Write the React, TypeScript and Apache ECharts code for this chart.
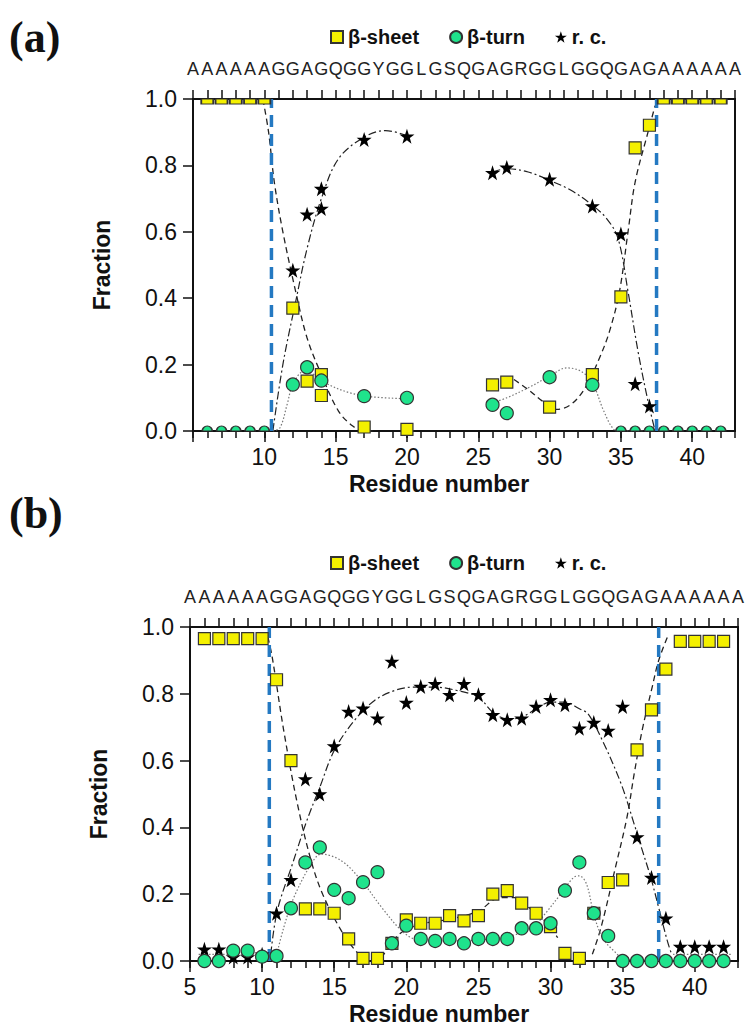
import React, { useEffect, useRef } from "react";
import * as echarts from "echarts";

// ---------- axis / text data ----------
const sequence = "AAAAAAGGAGQGGYGGLGSQGAGRGGLGGQGAGAAAAAA"; // residues 5 … 43
const seqStart = 5;
const xMin = 5;
const xMax = 43;
const boundaries = [10.5, 37.5];
const xMajorTicks = [5, 10, 15, 20, 25, 30, 35, 40];
const xLabelsA = [10, 15, 20, 25, 30, 35, 40];
const xLabelsB = [5, 10, 15, 20, 25, 30, 35, 40];
const legendNames = ["β-sheet", "β-turn", "r. c."];
const panelLabels = ["(a)", "(b)"];

// ---------- panel (a) ----------
const aSheet = [
  [6, 1], [7, 1], [8, 1], [9, 1], [10, 1], [12, 0.37], [13, 0.15], [14, 0.17], [14, 0.107],
  [17, 0.012], [20, 0.005], [26, 0.139], [27, 0.147], [30, 0.072], [33, 0.17], [35, 0.404],
  [36, 0.853], [37, 0.921], [38, 1], [39, 1], [40, 1], [41, 1], [42, 1],
];
const aTurn = [
  [6, 0], [7, 0], [8, 0], [9, 0], [10, 0], [12, 0.14], [13, 0.192], [14, 0.152], [17, 0.105],
  [20, 0.1], [26, 0.079], [27, 0.054], [30, 0.162], [33, 0.139], [35, 0], [36, 0], [37, 0],
  [38, 0], [39, 0], [40, 0], [41, 0], [42, 0],
];
const aCoil = [
  [12, 0.484], [13, 0.653], [14, 0.73], [14, 0.67], [17, 0.878], [20, 0.888], [26, 0.778],
  [27, 0.794], [30, 0.758], [33, 0.678], [35, 0.593], [36, 0.142], [37, 0.075],
];
const aSheetFitL = [
  [9.9, 1.0], [10.3, 0.9], [10.7, 0.75], [11.3, 0.6], [12.2, 0.42], [13, 0.28], [14, 0.17],
  [15.2, 0.06], [16.2, 0.015], [17, 0], [17.6, 0],
];
const aSheetFitR = [
  [27.5, 0.155], [28.5, 0.125], [29.5, 0.09], [30.5, 0.065], [31.5, 0.08], [32.5, 0.13],
  [33.5, 0.22], [34.2, 0.3], [34.9, 0.42], [35.5, 0.6], [36, 0.75], [36.9, 0.9], [37.4, 0.98],
];
const aCoilFitL = [
  [10.6, 0], [11.3, 0.2], [12.2, 0.39], [13, 0.55], [14, 0.7], [15.2, 0.82], [17, 0.885],
  [18.5, 0.905], [20, 0.89],
];
const aCoilFitR = [
  [26, 0.78], [27, 0.79], [28.5, 0.78], [30, 0.755], [31.5, 0.725], [33, 0.68], [34, 0.64],
  [34.8, 0.58], [35.5, 0.42], [36.2, 0.24], [36.9, 0.09], [37.4, 0],
];
const aTurnFitL = [
  [10.6, 0], [11.1, 0.01], [11.6, 0.08], [12, 0.14], [12.8, 0.18], [13.5, 0.17], [14.5, 0.14],
  [16, 0.115], [17.5, 0.103], [20, 0.097],
];
const aTurnFitR = [
  [26, 0.085], [27, 0.1], [28.5, 0.13], [30, 0.165], [31.2, 0.19], [32.2, 0.18], [33, 0.145],
  [33.8, 0.06], [34.5, 0.005], [35, 0], [37, 0],
];

// ---------- panel (b) ----------
const bSheet = [
  [6, 0.965], [7, 0.965], [8, 0.965], [9, 0.965], [10, 0.965], [11, 0.842], [12, 0.6],
  [13, 0.156], [14, 0.156], [15, 0.143], [16, 0.066], [17, 0.008], [18, 0.008], [19, 0.053],
  [20, 0.123], [21, 0.113], [22, 0.113], [23, 0.136], [24, 0.12], [25, 0.136], [26, 0.2],
  [27, 0.211], [28, 0.173], [29, 0.143], [30, 0.103], [31, 0.023], [32, 0.008], [33, 0.143],
  [34, 0.235], [35, 0.243], [36, 0.632], [37, 0.752], [38, 0.874], [39, 0.957], [40, 0.957],
  [41, 0.957], [42, 0.957],
];
const bTurn = [
  [6, 0], [7, 0], [8, 0.031], [9, 0.031], [10, 0.013], [11, 0.015], [12, 0.158], [13, 0.295],
  [14, 0.34], [15, 0.213], [16, 0.188], [17, 0.236], [18, 0.266], [19, 0.053], [20, 0.106],
  [21, 0.066], [22, 0.06], [23, 0.066], [24, 0.053], [25, 0.066], [26, 0.066], [27, 0.066],
  [28, 0.098], [29, 0.098], [30, 0.113], [31, 0.211], [32, 0.295], [33, 0.143], [34, 0.075],
  [35, 0], [36, 0], [37, 0], [38, 0], [39, 0], [40, 0], [41, 0], [42, 0],
];
const bCoil = [
  [6, 0.035], [7, 0.035], [8, 0.012], [9, 0.012], [10, 0.02], [11, 0.143], [12, 0.243],
  [13, 0.545], [14, 0.5], [15, 0.644], [16, 0.747], [17, 0.757], [18, 0.727], [19, 0.897],
  [20, 0.774], [21, 0.822], [22, 0.83], [23, 0.797], [24, 0.83], [25, 0.797], [26, 0.737],
  [27, 0.722], [28, 0.727], [29, 0.762], [30, 0.782], [31, 0.767], [32, 0.697], [33, 0.714],
  [34, 0.69], [35, 0.762], [36, 0.371], [37, 0.25], [38, 0.128], [39, 0.043], [40, 0.043],
  [41, 0.043], [42, 0.043],
];
const bSheetFitL = [
  [10.4, 0.97], [10.7, 0.91], [11.5, 0.69], [12.45, 0.47], [13.4, 0.3], [14.2, 0.2],
  [15.5, 0.09], [16.5, 0.03], [17.3, 0],
];
const bSheetFitM = [
  [18.3, 0.01], [19.5, 0.08], [21, 0.11], [23, 0.125], [25, 0.15], [26.5, 0.19], [27.5, 0.19],
  [28.5, 0.16], [29.5, 0.125], [30.5, 0.07],
];
const bSheetFitR = [
  [32.9, 0.02], [33.5, 0.1], [34.5, 0.28], [35.3, 0.43], [35.8, 0.56], [36.35, 0.69],
  [37.05, 0.82], [37.5, 0.9], [38.2, 0.98],
];
const bCoilFit = [
  [10.6, 0.02], [11.05, 0.15], [12.1, 0.29], [13.1, 0.42], [14, 0.52], [15, 0.63], [16.4, 0.72],
  [17.8, 0.78], [19.2, 0.81], [20.5, 0.82], [22, 0.82], [23.5, 0.81], [25, 0.79], [26, 0.745],
  [27, 0.725], [28, 0.73], [29, 0.755], [30, 0.775], [31, 0.775], [32, 0.755], [32.6, 0.74],
  [33.6, 0.66], [34.9, 0.53], [35.8, 0.41], [36.3, 0.34], [36.95, 0.25], [37.5, 0.16],
  [38.1, 0.06], [38.4, 0.02],
];
const bTurnFit = [
  [10.9, 0], [11.5, 0.1], [12.2, 0.19], [13.4, 0.29], [14.1, 0.32], [15.5, 0.3], [16.9, 0.24],
  [18.3, 0.16], [19.7, 0.09], [20.8, 0.063], [22.5, 0.06], [24.5, 0.062], [26.5, 0.07],
  [28, 0.085], [29, 0.11], [29.6, 0.14], [30.7, 0.2], [31.6, 0.25], [32, 0.255], [32.5, 0.23],
  [33, 0.14], [33.6, 0.07], [34.4, 0.03], [35.2, 0.005], [42.5, 0],
];
const bBaseL = [[5.6, 0.02], [10.3, 0.02]];
const bBaseR = [[38.5, 0.02], [42.6, 0.02]];

// ---------- styling ----------
const FONT = "'Liberation Sans', Arial, Helvetica, sans-serif";
const INK = "#111";
const YELLOW = "#f4f000";
const GREEN = "#1fe38c";
const BLUE = "#2479c2";
const STAR =
  "path://M50,0L61.8,35.1L98.8,35.1L68.8,56.7L79.4,91.9L50,70.5L20.6,91.9L31.2,56.7L1.2,35.1L38.2,35.1Z";
const HALF_DISC = "path://M0,10A10,10,0,0,1,20,10Z";

const DASH = [6, 4];
const DASHDOT = [8, 3, 2, 3];
const DOT = [1.5, 2];

const grids = [
  { left: 193, top: 99, width: 542, height: 332 },
  { left: 190, top: 627, width: 548, height: 334 },
];

function buildOption() {
  const xAxis: any[] = [];
  const yAxis: any[] = [];
  const series: any[] = [];

  const panels = [
    {
      xLabels: xLabelsA,
      sheet: aSheet,
      turn: aTurn,
      coil: aCoil,
      clipEnds: true,
      fits: [
        { d: aSheetFitL, t: DASH, c: "#222", w: 1.3 },
        { d: aSheetFitR, t: DASH, c: "#222", w: 1.3 },
        { d: aCoilFitL, t: DASHDOT, c: "#222", w: 1.2 },
        { d: aCoilFitR, t: DASHDOT, c: "#222", w: 1.2 },
        { d: aTurnFitL, t: DOT, c: "#777", w: 1.2 },
        { d: aTurnFitR, t: DOT, c: "#777", w: 1.2 },
      ],
    },
    {
      xLabels: xLabelsB,
      sheet: bSheet,
      turn: bTurn,
      coil: bCoil,
      clipEnds: false,
      fits: [
        { d: bSheetFitL, t: DASH, c: "#222", w: 1.3 },
        { d: bSheetFitM, t: DASH, c: "#222", w: 1.3 },
        { d: bSheetFitR, t: DASH, c: "#222", w: 1.3 },
        { d: bCoilFit, t: DASHDOT, c: "#222", w: 1.2 },
        { d: bTurnFit, t: DOT, c: "#777", w: 1.2 },
        { d: bBaseL, t: DOT, c: "#777", w: 1.2 },
        { d: bBaseR, t: DOT, c: "#777", w: 1.2 },
      ],
    },
  ];

  panels.forEach((p, gi) => {
    const xi = gi * 3;
    const yi = gi * 2;
    // bottom axis with a tick at every residue
    xAxis.push({
      gridIndex: gi, type: "value", min: xMin, max: xMax, interval: 1, position: "bottom",
      axisLine: { show: true, onZero: false, lineStyle: { color: INK, width: 2 } },
      axisTick: { show: true, length: 7, lineStyle: { color: INK, width: 1.5 } },
      axisLabel: { show: false }, splitLine: { show: false },
    });
    // bottom axis with long ticks and labels every 5 residues
    xAxis.push({
      gridIndex: gi, type: "value", min: xMin, max: xMax, position: "bottom",
      axisLine: { show: false, onZero: false },
      axisTick: { show: true, length: 11, customValues: xMajorTicks, lineStyle: { color: INK, width: 1.5 } },
      axisLabel: {
        show: true, customValues: p.xLabels, fontSize: 23, fontFamily: FONT, color: INK, margin: 14,
      },
      splitLine: { show: false },
      name: "Residue number", nameLocation: "middle", nameGap: 41,
      nameTextStyle: { fontSize: 23, fontWeight: "bold", fontFamily: FONT, color: INK, padding: [0, 50, 0, 0] },
    });
    // top axis carrying the sequence
    xAxis.push({
      gridIndex: gi, type: "value", min: xMin, max: xMax, interval: 1, position: "top",
      axisLine: { show: true, onZero: false, lineStyle: { color: INK, width: 2 } },
      axisTick: { show: true, length: 9, lineStyle: { color: INK, width: 1.5 } },
      axisLabel: {
        show: true, showMinLabel: true, showMaxLabel: true, fontSize: 18, fontFamily: FONT,
        color: "#222", margin: 21,
        formatter: (v: number) => sequence.charAt(Math.round(v) - seqStart),
      },
      splitLine: { show: false },
    });
    yAxis.push({
      gridIndex: gi, type: "value", min: 0, max: 1, interval: 0.2, position: "left",
      axisLine: { show: true, onZero: false, lineStyle: { color: INK, width: 2 } },
      axisTick: { show: true, length: 10, lineStyle: { color: INK, width: 1.5 } },
      axisLabel: {
        fontSize: 23, fontFamily: FONT, color: INK, margin: 16,
        formatter: (v: number) => v.toFixed(1),
      },
      splitLine: { show: false },
      name: "Fraction", nameLocation: "middle", nameGap: 80, nameRotate: 90,
      nameTextStyle: { fontSize: 23, fontWeight: "bold", fontFamily: FONT, color: INK },
    });
    yAxis.push({
      gridIndex: gi, type: "value", min: 0, max: 1, position: "right",
      axisLine: { show: true, onZero: false, lineStyle: { color: INK, width: 2 } },
      axisTick: { show: false }, axisLabel: { show: false }, splitLine: { show: false },
    });

    p.fits.forEach((f) => {
      series.push({
        type: "line", xAxisIndex: xi, yAxisIndex: yi, data: f.d, smooth: 0.35, symbol: "none",
        silent: true, z: 2, lineStyle: { color: f.c, width: f.w, type: f.t },
      });
    });
    boundaries.forEach((b) => {
      series.push({
        type: "line", xAxisIndex: xi, yAxisIndex: yi, data: [[b, 0], [b, 1]], symbol: "none",
        silent: true, z: 3, lineStyle: { color: BLUE, width: 3.5, type: [12, 7] },
      });
    });

    const sheetData = p.sheet.map((d) =>
      p.clipEnds && d[1] >= 1
        ? { value: d, symbol: "rect", symbolSize: [12, 5], symbolOffset: [0, 2.5] }
        : d
    );
    const turnData = p.turn.map((d) =>
      p.clipEnds && d[1] <= 0
        ? { value: d, symbol: HALF_DISC, symbolSize: [10, 5], symbolOffset: [0, -2.5] }
        : d
    );
    series.push({
      name: legendNames[0], type: "scatter", xAxisIndex: xi, yAxisIndex: yi, data: sheetData,
      symbol: "rect", symbolSize: 12, z: 5,
      itemStyle: { color: YELLOW, borderColor: "#333", borderWidth: 1.2, opacity: 1 },
    });
    series.push({
      name: legendNames[2], type: "scatter", xAxisIndex: xi, yAxisIndex: yi, data: p.coil,
      symbol: STAR, symbolSize: 15, z: 5,
      itemStyle: { color: "#000", borderColor: "#000", borderWidth: 0, opacity: 1 },
    });
    series.push({
      name: legendNames[1], type: "scatter", xAxisIndex: xi, yAxisIndex: yi, data: turnData,
      symbol: "circle", symbolSize: 13, z: 5,
      itemStyle: { color: GREEN, borderColor: "#333", borderWidth: 1.2, opacity: 1 },
    });
  });

  const legendBase = {
    left: 330, itemWidth: 12, itemHeight: 12, itemGap: 30, padding: 0, selectedMode: false,
    textStyle: { fontSize: 20, fontWeight: "bold", fontFamily: FONT, color: INK },
    data: [
      { name: legendNames[0], icon: "rect" },
      { name: legendNames[1], icon: "circle" },
      { name: legendNames[2], icon: STAR },
    ],
  };

  return {
    animation: false,
    backgroundColor: "#fff",
    grid: grids,
    xAxis,
    yAxis,
    series,
    legend: [
      { ...legendBase, top: 27 },
      { ...legendBase, top: 553 },
    ],
    graphic: [
      {
        type: "text", left: 9, top: 15,
        style: { text: panelLabels[0], font: "bold 44px 'Liberation Serif', 'Times New Roman', serif", fill: INK },
      },
      {
        type: "text", left: 9, top: 491,
        style: { text: panelLabels[1], font: "bold 44px 'Liberation Serif', 'Times New Roman', serif", fill: INK },
      },
    ],
  };
}

export default function App() {
  const ref = useRef<HTMLDivElement>(null);
  useEffect(() => {
    if (!ref.current) return;
    const chart = echarts.init(ref.current, undefined, { renderer: "svg" });
    chart.setOption(buildOption() as any);
    return () => chart.dispose();
  }, []);
  return (
    <div
      ref={ref}
      style={{ position: "absolute", left: 0, top: 0, width: 747, height: 1026, background: "#fff" }}
    />
  );
}
